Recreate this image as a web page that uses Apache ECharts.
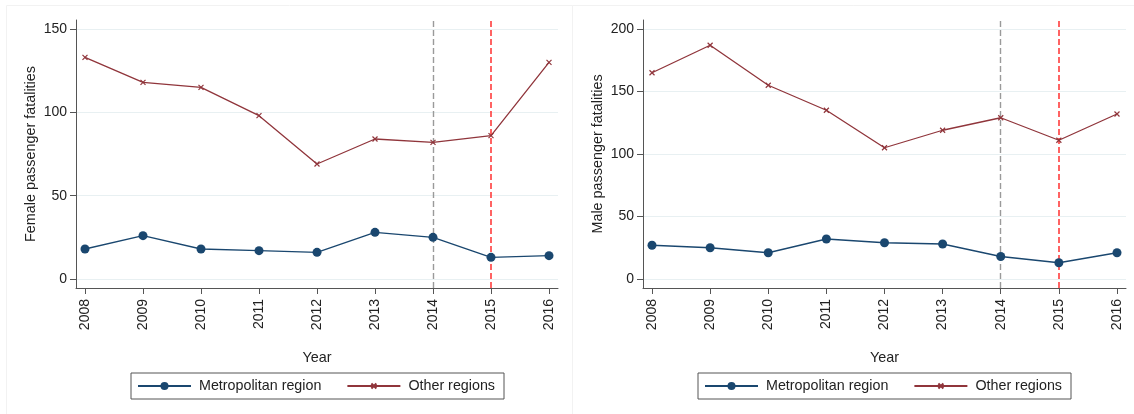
<!DOCTYPE html>
<html>
<head>
<meta charset="utf-8">
<script src="https://cdn.jsdelivr.net/npm/echarts@6/dist/echarts.min.js"></script>
<style>
html,body{margin:0;padding:0;background:#fff;}
#c{width:1134px;height:414px;}
</style>
</head>
<body>
<div id="c"></div>
<script>
const years = [2008, 2009, 2010, 2011, 2012, 2013, 2014, 2015, 2016];
const femaleMetro = [18, 26, 18, 17, 16, 28, 25, 13, 14];
const femaleOther = [133, 118, 115, 98, 69, 84, 82, 86, 130];
const maleMetro = [27, 25, 21, 32, 29, 28, 18, 13, 21];
const maleOther = [165, 187, 155, 135, 105, 119, 129, 111, 132];
const femaleTicks = [0, 50, 100, 150];
const maleTicks = [0, 50, 100, 150, 200];
const markYears = [2014, 2015];
const seriesNames = ['Metropolitan region', 'Other regions'];
const yTitles = ['Female passenger fatalities', 'Male passenger fatalities'];
const xTitle = 'Year';

const NAVY = '#1a476f', MAROON = '#90353b';
const FONT = 'Liberation Sans, Arial, sans-serif';
const XMARK = 'path://M-3,-3M0,0L10,10M10,0L0,10M13,13';
const pairs = (vals) => years.map((y, i) => [y, vals[i]]);

function xAxis(gi) {
  return {
    type: 'value', gridIndex: gi, min: 2007.845, max: 2016.155,
    name: xTitle, nameLocation: 'middle', nameGap: 63,
    nameTextStyle: {fontSize: 14.4, color: '#222', fontFamily: FONT},
    axisLine: {show: true, onZero: false, lineStyle: {color: '#555', width: 1}},
    axisTick: {show: true, length: 6, customValues: years, lineStyle: {color: '#555'}},
    axisLabel: {customValues: years, rotate: 90, margin: 11, fontSize: 14, color: '#222', fontFamily: FONT,
      formatter: v => String(v)},
    splitLine: {show: false}
  };
}
function yAxis(gi, min, max, ticks, title) {
  return {
    type: 'value', gridIndex: gi, min: min, max: max,
    name: title, nameLocation: 'middle', nameGap: 38, nameRotate: 90,
    nameTextStyle: {fontSize: 14.4, color: '#222', fontFamily: FONT},
    axisLine: {show: true, lineStyle: {color: '#555', width: 1}},
    axisTick: {show: true, length: 6, customValues: ticks, lineStyle: {color: '#555'}},
    axisLabel: {customValues: ticks, margin: 9, fontSize: 14, color: '#222', fontFamily: FONT},
    splitLine: {show: false}
  };
}
function gridSeries(gi, ticks) {
  return {
    type: 'line', xAxisIndex: gi, yAxisIndex: gi, data: [], z: 0, silent: true,
    markLine: {z: 0, silent: true, symbol: 'none', label: {show: false}, animation: false,
      lineStyle: {color: '#e8f0f2', width: 1, type: 'solid'},
      data: ticks.map(t => ({yAxis: t}))}
  };
}
function vlineSeries(gi) {
  return {
    type: 'line', xAxisIndex: gi, yAxisIndex: gi, data: [], z: 1, silent: true,
    markLine: {z: 1, silent: true, symbol: 'none', label: {show: false}, animation: false,
      data: [
        {xAxis: markYears[0], lineStyle: {color: '#9a9a9a', width: 1.4, type: [6, 3]}, itemStyle: {color: '#9a9a9a'}},
        {xAxis: markYears[1], lineStyle: {color: '#ff3030', width: 1.5, type: [6, 3]}, itemStyle: {color: '#ff3030'}}
      ]}
  };
}
function metro(gi, vals) {
  return {
    name: seriesNames[0], type: 'line', xAxisIndex: gi, yAxisIndex: gi, data: pairs(vals), z: 3,
    symbol: 'circle', symbolSize: 9, showSymbol: true, animation: false,
    lineStyle: {color: NAVY, width: 1.3}, itemStyle: {color: NAVY}
  };
}
function other(gi, vals) {
  return {
    name: seriesNames[1], type: 'line', xAxisIndex: gi, yAxisIndex: gi, data: pairs(vals), z: 3,
    symbol: XMARK, symbolSize: 8, showSymbol: true, animation: false,
    lineStyle: {color: MAROON, width: 1.3},
    itemStyle: {color: MAROON, borderColor: MAROON, borderWidth: 1.2}
  };
}
function legend(left) {
  return {
    data: seriesNames, left: left, top: 373, orient: 'horizontal',
    itemWidth: 53, itemHeight: 10, itemGap: 25, padding: [6, 9, 6, 6],
    borderColor: '#555', borderWidth: 1, selectedMode: false,
    textStyle: {fontSize: 14.3, color: '#222', fontFamily: FONT, padding: [0, 0, 0, 3]}
  };
}

const chart = echarts.init(document.getElementById('c'), null, {renderer: 'canvas'});
chart.setOption({
  backgroundColor: '#fff',
  animation: false,
  textStyle: {fontFamily: FONT},
  graphic: [
    {type: 'rect', shape: {x: 6.5, y: 5.5, width: 566, height: 430}, style: {fill: 'none', stroke: '#f2f2f2', lineWidth: 1}, z: -10},
    {type: 'rect', shape: {x: 572.5, y: 5.5, width: 600, height: 430}, style: {fill: 'none', stroke: '#f2f2f2', lineWidth: 1}, z: -10}
  ],
  grid: [
    {left: 76, top: 20, width: 482, height: 268},
    {left: 643, top: 20, width: 483, height: 268}
  ],
  legend: [legend(131), legend(698)],
  xAxis: [xAxis(0), xAxis(1)],
  yAxis: [yAxis(0, -5.4, 155.4, femaleTicks, yTitles[0]), yAxis(1, -7.2, 207.2, maleTicks, yTitles[1])],
  series: [
    gridSeries(0, femaleTicks), vlineSeries(0), metro(0, femaleMetro), other(0, femaleOther),
    gridSeries(1, maleTicks), vlineSeries(1), metro(1, maleMetro), other(1, maleOther)
  ]
});
</script>
</body>
</html>
